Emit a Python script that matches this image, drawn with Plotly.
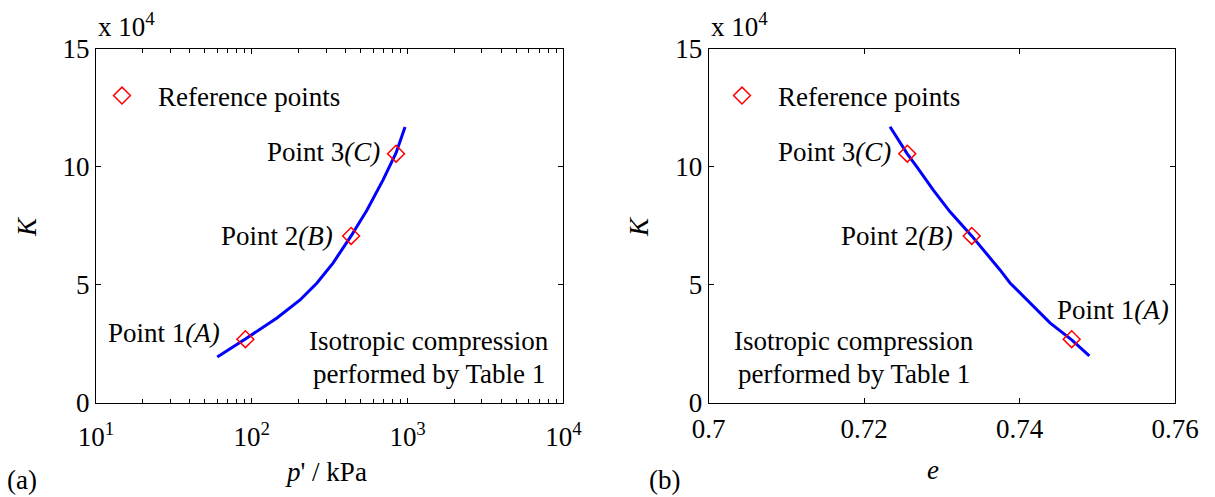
import plotly.graph_objects as go

W, H = 1215, 497
FONT = "Times New Roman, Liberation Serif, serif"
FS = 27

# ---- data (K in units of 1e4) ----
curve_p = [60, 91, 145, 204, 262, 332, 434, 549, 696, 843, 963]
curve_K_a = [1.95, 2.71, 3.60, 4.36, 5.08, 5.92, 7.07, 8.17, 9.44, 10.58, 11.68]
curve_e = [0.72334, 0.72556, 0.72677, 0.72891, 0.73106, 0.73385, 0.73749, 0.73878, 0.74392, 0.74671, 0.74898]
curve_K_b = [11.69, 10.54, 10.00, 9.01, 8.09, 7.07, 5.63, 5.08, 3.39, 2.67, 1.99]

ref_p = [91, 434, 843]
ref_e = [0.74671, 0.73385, 0.72556]
ref_K = [2.70, 7.07, 10.55]

x_a_ticks = [10, 100, 1000, 10000]
x_a_text = ["10<sup>1</sup>", "10<sup>2</sup>", "10<sup>3</sup>", "10<sup>4</sup>"]
x_a_minor = [m * 10 ** d for d in (1, 2, 3) for m in range(2, 10)]
x_b_ticks = [0.70, 0.72, 0.74, 0.76]
x_b_text = ["0.7", "0.72", "0.74", "0.76"]
y_ticks = [0, 5, 10, 15]

def px(x):
    return x / W

def py(y):
    return 1 - y / H

marker_style = dict(symbol="diamond-open", size=13, color="#ff0000",
                    line=dict(width=1.5, color="#ff0000"))

fig = go.Figure()
fig.add_trace(go.Scatter(x=curve_p, y=curve_K_a, mode="lines",
                         line=dict(color="#0000ff", width=3), xaxis="x", yaxis="y",
                         showlegend=False))
# reference points drawn on the overlaying top log axis (same range as x)
fig.add_trace(go.Scatter(x=ref_p, y=ref_K, mode="markers", name="Reference points",
                         marker=marker_style, xaxis="x3", yaxis="y", legend="legend"))
fig.add_trace(go.Scatter(x=curve_e, y=curve_K_b, mode="lines",
                         line=dict(color="#0000ff", width=3), xaxis="x2", yaxis="y2",
                         showlegend=False))
fig.add_trace(go.Scatter(x=ref_e, y=ref_K, mode="markers", name="Reference points",
                         marker=marker_style, xaxis="x2", yaxis="y2", legend="legend2"))

ax_common = dict(showline=True, linecolor="black", linewidth=1, mirror="ticks",
                 ticks="inside", ticklen=5, tickcolor="black", showgrid=False,
                 zeroline=False, automargin=False,
                 tickfont=dict(family=FONT, size=FS, color="black"))
ydom = [py(403), py(48.5)]
minor_a = dict(tickvals=x_a_minor, ticks="inside", ticklen=4, tickcolor="black",
               tickwidth=1.2, showgrid=False)

fig.update_layout(
    width=W, height=H, margin=dict(l=0, r=0, t=0, b=0, pad=0), autosize=False,
    paper_bgcolor="white", plot_bgcolor="white",
    font=dict(family=FONT, size=FS, color="black"),
    xaxis=dict(type="log", range=[1, 4], domain=[px(96), px(563.4)], anchor="y",
               tickvals=x_a_ticks, ticktext=x_a_text, ticklabelstandoff=10,
               minor=minor_a, **ax_common),
    xaxis3=dict(type="log", range=[1, 4], overlaying="x", side="top", anchor="y",
                tickvals=x_a_ticks, showticklabels=False, ticks="inside", ticklen=5,
                tickcolor="black", showline=False, showgrid=False, zeroline=False,
                automargin=False, minor=minor_a),
    yaxis=dict(range=[0, 15], domain=ydom, anchor="x", tickvals=y_ticks, **ax_common),
    xaxis2=dict(range=[0.70, 0.76], domain=[px(708.6), px(1175)], anchor="y2",
                tickvals=x_b_ticks, ticktext=x_b_text, ticklabelstandoff=2, **ax_common),
    yaxis2=dict(range=[0, 15], domain=ydom, anchor="x2", tickvals=y_ticks, **ax_common),
    legend=dict(x=px(86), y=py(96), xanchor="left", yanchor="middle",
                bgcolor="rgba(0,0,0,0)", itemwidth=62, font=dict(family=FONT, size=FS)),
    legend2=dict(x=px(706), y=py(96), xanchor="left", yanchor="middle",
                 bgcolor="rgba(0,0,0,0)", itemwidth=62, font=dict(family=FONT, size=FS)),
)

def ann(text, x, y, xanchor="center", yanchor="middle", align="center", size=FS, textangle=0):
    fig.add_annotation(text=text, x=px(x), y=py(y), xref="paper", yref="paper",
                       xanchor=xanchor, yanchor=yanchor, showarrow=False, align=align,
                       textangle=textangle, font=dict(family=FONT, size=size, color="black"))

# exponent labels
ann("x 10<sup>4</sup>", 96, 44, xanchor="left", yanchor="bottom")
ann("x 10<sup>4</sup>", 709, 44, xanchor="left", yanchor="bottom")
# axis titles
ann("<i>p</i>' / kPa", 326, 472)
ann("<i>e</i>", 933, 470)
ann("<i>K</i>", 27, 227, textangle=-90)
ann("<i>K</i>", 639, 227, textangle=-90)
ann("(a)", 22, 480)
ann("(b)", 664, 480)
# point labels
ann("Point 1<i>(A)</i>", 222, 333, xanchor="right")
ann("Point 2<i>(B)</i>", 335, 236, xanchor="right")
ann("Point 3<i>(C)</i>", 382, 152, xanchor="right")
ann("Point 3<i>(C)</i>", 893, 152, xanchor="right")
ann("Point 2<i>(B)</i>", 955, 236, xanchor="right")
ann("Point 1<i>(A)</i>", 1055, 310, xanchor="left")
# description text
ann("Isotropic compression", 429, 341)
ann("performed by Table 1", 429, 374)
ann("Isotropic compression", 854, 341)
ann("performed by Table 1", 854, 374)

fig.write_html("out.html")
